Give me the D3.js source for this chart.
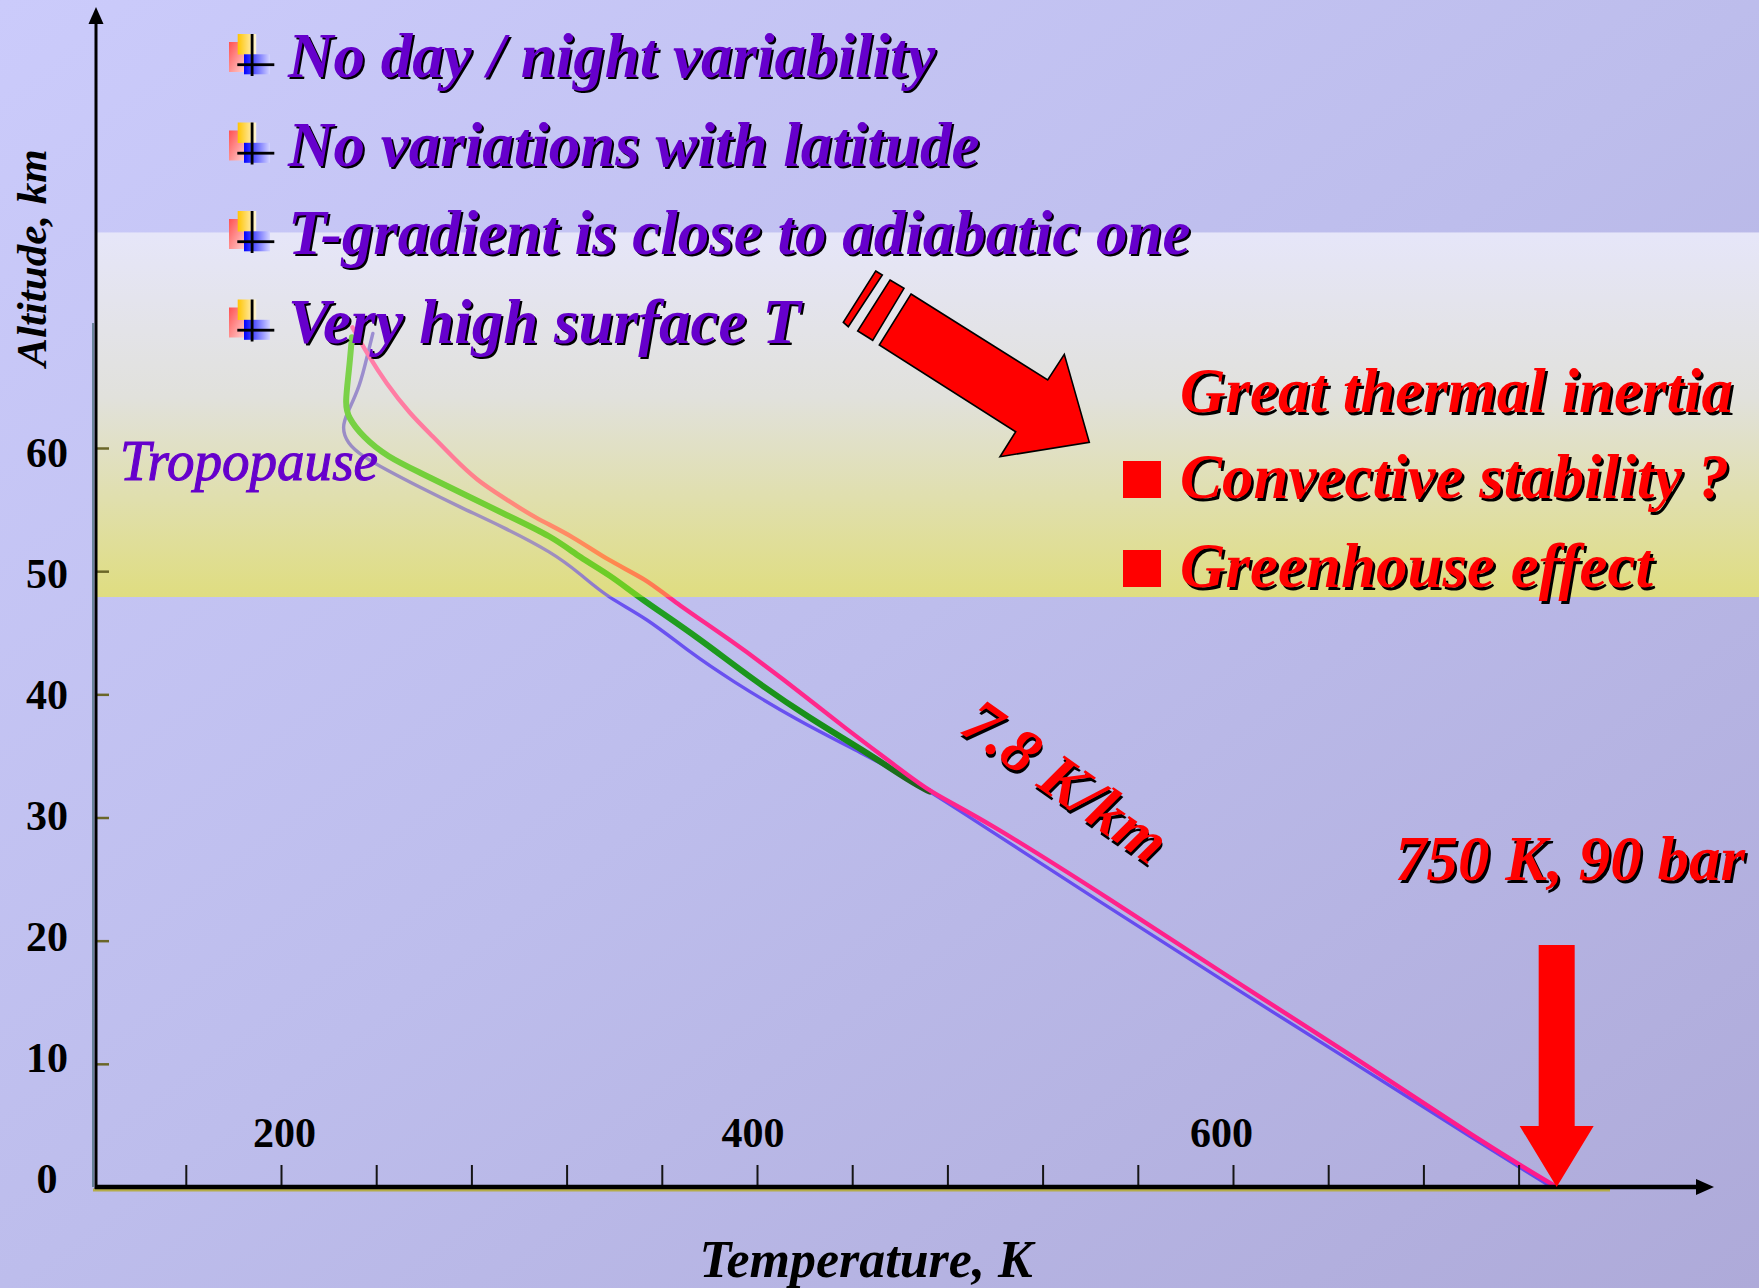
<!DOCTYPE html>
<html>
<head>
<meta charset="utf-8">
<script src="https://cdn.jsdelivr.net/npm/d3@7"></script>
<style>
  html, body { margin: 0; padding: 0; overflow: hidden; background: #c4c4f2; }
  svg { display: block; }
</style>
</head>
<body>
<svg id="chart" width="1759" height="1288"></svg>
<script>
// ---- Temperature profiles (T in K, altitude in km) ----
const profile1Temp = [230, 237, 244, 254, 264, 272, 282, 295, 306, 323, 337, 354, 363, 389, 410, 438, 459, 473, 494, 549, 600, 650, 704, 736];
const profile1Alt  = [69.8, 67.4, 65.3, 62.8, 60.9, 59.3, 57.4, 55.8, 54.4, 52.8, 50.9, 49.3, 47.8, 44.4, 41.4, 37.1, 34.1, 32.0, 30.0, 23.3, 16.8, 10.7, 3.7, 0];

const profile2Temp = [229.8, 228.6, 226.9, 228.1, 234.4, 244.5, 258.4, 275.2, 293.2, 314.2, 325.6, 338.2, 350.8, 374.7, 398.2, 423.4, 444.4, 465.4, 472.6];
const profile2Alt  = [69.0, 66.3, 63.6, 62.5, 60.9, 59.3, 58.0, 56.4, 54.7, 52.8, 51.1, 49.7, 47.8, 44.7, 41.2, 37.9, 35.5, 32.8, 32.1];

const profile3Temp = [238.6, 236.5, 233.2, 227.7, 225.6, 227.7, 234.4, 244.5, 258.4, 275.2, 293.2, 314.2, 325.6, 336.9, 353.7, 371.8, 388.6, 416.7, 444.4, 465.4, 486.4, 546.1, 598.6, 649.0, 703.6, 733.8];
const profile3Alt  = [69.3, 67.7, 65.0, 62.8, 61.7, 60.4, 59.3, 58.2, 56.8, 55.2, 53.6, 51.5, 49.8, 47.9, 46.2, 43.4, 41.2, 37.9, 35.2, 33.0, 30.4, 22.9, 16.4, 10.3, 3.6, 0];

// ---- Axes ----
const tempTicks  = [160, 200, 240, 280, 320, 360, 400, 440, 480, 520, 560, 600, 640, 680, 720];
const tempLabels = [200, 400, 600];
const altTicks   = [0, 10, 20, 30, 40, 50, 60];

// Cloud-layer highlight (km)
const cloudLayer = [47.9, 77.5];

// ---- Text ----
const bulletLines = [
  "No day / night variability",
  "No variations with latitude",
  "T-gradient is close to adiabatic one",
  "Very high surface T"
];
const consequenceLines = ["Great thermal inertia", "Convective stability ?", "Greenhouse effect"];
const lapseRateLabel = "7.8 K/km";
const surfaceLabel = "750 K, 90 bar";
const tropopauseLabel = "Tropopause";
const xTitle = "Temperature, K";
const yTitle = "Altitude, km";

// ---------------------------------------------------------------
const W = 1759, H = 1288;
const SERIF = "'Liberation Serif', 'Times New Roman', Times, serif";
const PURPLE = "#6600cc";
const RED = "#ff0000";

const svg = d3.select("#chart");
const defs = svg.append("defs");

// plot scales (ticks and curves)
const x = d3.scaleLinear().domain([200, 600]).range([281, 1233]);
const y = d3.scaleLinear().domain([0, 60]).range([1187, 448]);
// the printed tick numbers sit on a slightly different spacing than the tick marks
const xLab = d3.scaleLinear().domain([200, 600]).range([284, 1221]);
const yLab = d3.scaleLinear().domain([0, 60]).range([1192, 466]);

const axisX0 = 96;            // x of the altitude axis line
const axisY0 = y(0);          // y of the temperature axis line

// Background gradient
const bg = defs.append("linearGradient").attr("id", "bg")
  .attr("x1", 0).attr("y1", 0).attr("x2", 1).attr("y2", 1);
bg.append("stop").attr("offset", 0).attr("stop-color", "#cbcbfb");
bg.append("stop").attr("offset", 0.5).attr("stop-color", "#bdbdec");
bg.append("stop").attr("offset", 1).attr("stop-color", "#aeaad9");
svg.append("rect").attr("width", W).attr("height", H).attr("fill", "url(#bg)");

// Cloud-layer band
const band = defs.append("linearGradient").attr("id", "band")
  .attr("x1", 0).attr("y1", 0).attr("x2", 0).attr("y2", 1);
band.append("stop").attr("offset", 0).attr("stop-color", "#e6e6f9");
band.append("stop").attr("offset", 0.45).attr("stop-color", "#e1e1dc");
band.append("stop").attr("offset", 1).attr("stop-color", "#dfdd80");
svg.append("rect")
  .attr("x", axisX0).attr("y", y(cloudLayer[1]))
  .attr("width", W - axisX0).attr("height", y(cloudLayer[0]) - y(cloudLayer[1]))
  .attr("fill", "url(#band)");

// Stroke gradients keyed by altitude
function altGradient(id, stops) {
  const g = defs.append("linearGradient").attr("id", id)
    .attr("gradientUnits", "userSpaceOnUse")
    .attr("x1", 0).attr("x2", 0).attr("y1", y(72)).attr("y2", y(0));
  const span = y(0) - y(72);
  stops.forEach(([alt, col]) => {
    g.append("stop").attr("offset", (y(alt) - y(72)) / span).attr("stop-color", col);
  });
}
const edge = cloudLayer[0];
altGradient("g1", [[72, "#ff80b0"], [60, "#ff7a9c"], [55, "#ff8a78"], [51, "#ff8a4e"], [edge + 0.05, "#ff7356"], [edge - 0.05, "#ff2a8c"], [0, "#ff1a8a"]]);
altGradient("g2", [[72, "#84d455"], [60, "#74d040"], [edge + 0.05, "#6ccc22"], [edge - 0.05, "#22a022"], [36, "#168c16"], [32, "#1f5a1f"]]);
altGradient("g3", [[72, "#9c8ed6"], [60, "#9a8cc4"], [52, "#a292bc"], [edge + 0.05, "#8a76d0"], [edge - 0.05, "#6a52f0"], [0, "#6248ee"]]);

const profiles = [
  { temp: profile3Temp, alt: profile3Alt, stroke: "url(#g3)", width: 3.4 },
  { temp: profile2Temp, alt: profile2Alt, stroke: "url(#g2)", width: 6 },
  { temp: profile1Temp, alt: profile1Alt, stroke: "url(#g1)", width: 4.4 }
];
const line = d3.line().x(d => x(d[0])).y(d => y(d[1])).curve(d3.curveBasis);
svg.append("g").selectAll("path").data(profiles).join("path")
  .attr("d", p => line(p.temp.map((t, i) => [t, p.alt[i]])))
  .attr("fill", "none")
  .attr("stroke", p => p.stroke)
  .attr("stroke-width", p => p.width)
  .attr("stroke-linecap", "round")
  .attr("stroke-linejoin", "round");

// ---- Axes ----
// temperature ticks (pointing up from the axis)
const xTickAxis = d3.axisBottom(x).tickValues(tempTicks).tickSize(-20).tickFormat("");
const gxt = svg.append("g").attr("transform", `translate(0,${axisY0 - 2})`).call(xTickAxis);
gxt.select(".domain").remove();
gxt.selectAll("line").attr("stroke", "#151515").attr("stroke-width", 2);

// temperature labels, placed above the tick row
const xLabelAxis = d3.axisBottom(xLab).tickValues(tempLabels).tickSize(0).tickFormat(d3.format("d"));
const gxl = svg.append("g").attr("transform", `translate(0,${axisY0 - 40})`).call(xLabelAxis);
gxl.select(".domain").remove();
gxl.selectAll("text").attr("y", 0).attr("dy", 0)
  .attr("font-family", SERIF).attr("font-weight", "bold").attr("font-size", 42).attr("fill", "#000");

// altitude ticks
const yTickAxis = d3.axisRight(y).tickValues(altTicks).tickSize(13).tickFormat("");
const gyt = svg.append("g").attr("transform", `translate(${axisX0},0)`).call(yTickAxis);
gyt.select(".domain").remove();
gyt.selectAll("line").attr("stroke", "#6a6628").attr("stroke-width", 2.5);

// altitude labels
const yLabelAxis = d3.axisLeft(yLab).tickValues(altTicks).tickSize(0).tickFormat(d3.format("d"));
const gyl = svg.append("g").attr("transform", "translate(47,0)").call(yLabelAxis);
gyl.select(".domain").remove();
gyl.selectAll("text").attr("x", 0).attr("y", 0).attr("dy", 0).attr("text-anchor", "middle")
  .attr("font-family", SERIF).attr("font-weight", "bold").attr("font-size", 42).attr("fill", "#000");

// axis lines with arrow heads
svg.append("line").attr("x1", axisX0 - 3).attr("x2", 1610).attr("y1", axisY0 + 3).attr("y2", axisY0 + 3)
  .attr("stroke", "#b4ac48").attr("stroke-width", 3);
svg.append("line").attr("x1", axisX0 - 1).attr("x2", 1700).attr("y1", axisY0).attr("y2", axisY0)
  .attr("stroke", "#000").attr("stroke-width", 4.5);
svg.append("path").attr("d", `M1714,${axisY0} L1696,${axisY0 - 8} L1696,${axisY0 + 8} Z`).attr("fill", "#000");

svg.append("line").attr("x1", axisX0 - 3).attr("x2", axisX0 - 3).attr("y1", 323).attr("y2", axisY0)
  .attr("stroke", "#2d5a60").attr("stroke-width", 1.2);
svg.append("line").attr("x1", axisX0).attr("x2", axisX0).attr("y1", 20).attr("y2", axisY0 + 2)
  .attr("stroke", "#000").attr("stroke-width", 3);
svg.append("path").attr("d", `M${axisX0},7 L${axisX0 - 7.5},24 L${axisX0 + 7.5},24 Z`).attr("fill", "#000");

// ---- Text helpers ----
function shadowText(g, str, px, py, opts) {
  const o = Object.assign({ size: 63, fill: RED, weight: "bold", style: "italic", anchor: "start", off: 2.5 }, opts);
  const grp = g.append("g");
  [["#000", o.off], [o.fill, 0]].forEach(([c, d]) => {
    grp.append("text").attr("x", px + d).attr("y", py + d)
      .attr("font-family", SERIF).attr("font-size", o.size)
      .attr("font-weight", o.weight).attr("font-style", o.style)
      .attr("text-anchor", o.anchor).attr("fill", c).text(str);
  });
  return grp;
}

// bullet icon: three overlapping tinted squares with a black cross
function gradient(id, x1, y1, x2, y2, c1, c2) {
  const g = defs.append("linearGradient").attr("id", id)
    .attr("x1", x1).attr("y1", y1).attr("x2", x2).attr("y2", y2);
  g.append("stop").attr("offset", 0).attr("stop-color", c1);
  g.append("stop").attr("offset", 1).attr("stop-color", c2);
}
gradient("bPink", 0, 0, 1, 1, "#ff5050", "#ffd0d0");
gradient("bYel", 0, 0, 1, 0, "#ffc400", "#fff6d8");
gradient("bBlue", 0, 0, 1, 0, "#0000ff", "#d4d4ff");
function bullet(g, bx, baseline) {
  const t = baseline - 43;
  g.append("rect").attr("x", bx).attr("y", t + 8).attr("width", 16).attr("height", 30).attr("fill", "url(#bPink)");
  g.append("rect").attr("x", bx + 8.7).attr("y", t).attr("width", 18.5).attr("height", 20.5).attr("fill", "url(#bYel)");
  g.append("rect").attr("x", bx + 15).attr("y", t + 20.3).attr("width", 26).attr("height", 20).attr("fill", "url(#bBlue)");
  g.append("rect").attr("x", bx + 21.7).attr("y", t).attr("width", 2.8).attr("height", 42).attr("fill", "#000");
  g.append("rect").attr("x", bx + 8.3).attr("y", t + 29.3).attr("width", 37).attr("height", 2.8).attr("fill", "#000");
}

// ---- Annotations ----
const ann = svg.append("g");

// observation bullets
bulletLines.forEach((s, i) => {
  const base = 77 + i * 88.5;
  bullet(ann, 229, base);
  shadowText(ann, s, 288, base, { fill: PURPLE, size: 63, off: 2 });
});

// tropopause label
ann.append("text").attr("x", 120).attr("y", 480)
  .attr("font-family", SERIF).attr("font-style", "italic").attr("font-size", 57)
  .attr("textLength", 258).attr("lengthAdjust", "spacingAndGlyphs")
  .attr("fill", PURPLE).attr("stroke", PURPLE).attr("stroke-width", 1.1).text(tropopauseLabel);

// axis titles
ann.append("text").attr("x", 866).attr("y", 1277).attr("text-anchor", "middle")
  .attr("font-family", SERIF).attr("font-weight", "bold").attr("font-style", "italic")
  .attr("font-size", 52).attr("fill", "#000").text(xTitle);
ann.append("text").attr("transform", "translate(46,258) rotate(-90)").attr("text-anchor", "middle")
  .attr("font-family", SERIF).attr("font-weight", "bold").attr("font-style", "italic")
  .attr("font-size", 43).attr("fill", "#000").text(yTitle);

// big diagonal arrow leading to the consequences
const arrowParts = [
  [[875.7, 271], [882.3, 275], [848.3, 326.7], [843.3, 322.3]],
  [[890, 280], [904, 288.3], [872.7, 340.3], [857.7, 331]],
  [[911, 294], [1047.7, 380], [1064.3, 354.3], [1089.3, 442.3], [1000, 456.7], [1015.7, 431.7], [879.3, 345]]
];
ann.selectAll("path.bigArrow").data(arrowParts).join("path").attr("class", "bigArrow")
  .attr("d", pts => "M" + pts.map(p => p.join(",")).join("L") + "Z")
  .attr("fill", RED).attr("stroke", "#000").attr("stroke-width", 1.6).attr("stroke-linejoin", "miter");

// consequences
consequenceLines.forEach((s, i) => {
  const base = [412, 498, 587][i];
  if (i > 0) ann.append("rect").attr("x", 1123).attr("y", base - 37).attr("width", 38).attr("height", 37).attr("fill", RED);
  shadowText(ann, s, 1180, base, {});
});

// lapse-rate label along the adiabatic section
const lr = ann.append("g").attr("transform", `translate(${x(530)},${y(33)}) rotate(35)`);
[["#000", 2.5], [RED, 0]].forEach(([c, d]) => {
  lr.append("text").attr("x", d).attr("y", d).attr("dy", "0.35em").attr("text-anchor", "middle")
    .attr("font-family", SERIF).attr("font-weight", "bold").attr("font-style", "italic")
    .attr("font-size", 63).attr("fill", c).text(lapseRateLabel);
});

// surface conditions
shadowText(ann, surfaceLabel, 1395, 880, {});
const sx = x(profile1Temp[profile1Temp.length - 1]);
const sy = y(profile1Alt[profile1Alt.length - 1]);
ann.append("path")
  .attr("d", `M${sx},${sy} L${sx - 37},${sy - 61} L${sx - 18},${sy - 61} L${sx - 18},${sy - 242} L${sx + 18},${sy - 242} L${sx + 18},${sy - 61} L${sx + 37},${sy - 61} Z`)
  .attr("fill", RED);
</script>
</body>
</html>
